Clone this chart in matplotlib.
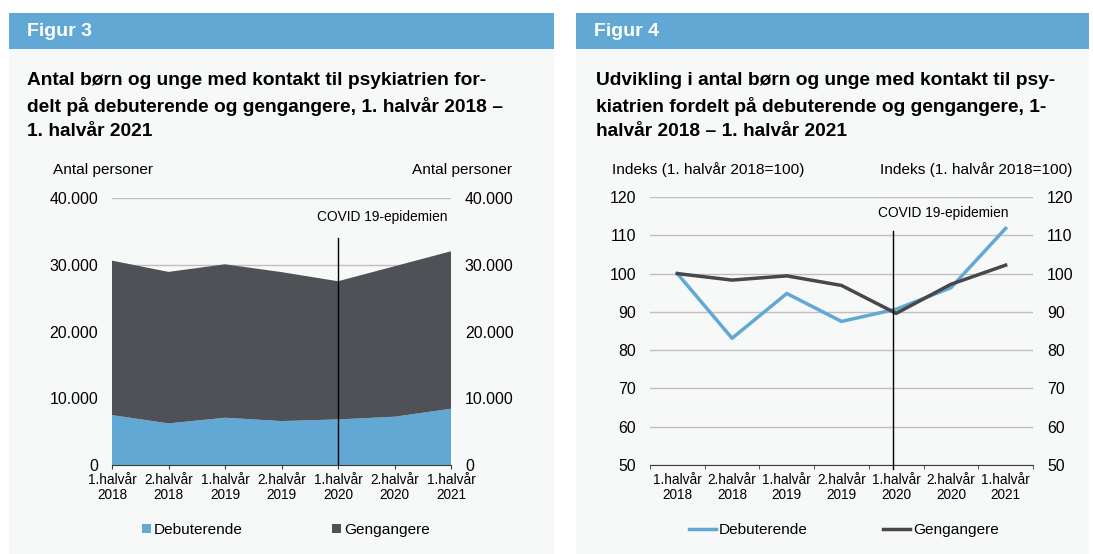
import numpy as np
import matplotlib
matplotlib.use('Agg')
from matplotlib import pyplot as plt
from matplotlib.patches import Rectangle, Patch

plt.rcParams['font.family'] = ['Liberation Sans', 'DejaVu Sans']

# data
periods = ['1.halvår\n2018', '2.halvår\n2018', '1.halvår\n2019', '2.halvår\n2019',
           '1.halvår\n2020', '2.halvår\n2020', '1.halvår\n2021']
debut_count = [7480, 6230, 7080, 6580, 6830, 7230, 8430]
geng_count = [23140, 22700, 22990, 22320, 20700, 22540, 23590]
debut_index = [100, 83.1, 94.8, 87.5, 90.7, 96.3, 111.8]
geng_index = [100, 98.3, 99.4, 96.9, 89.6, 97.2, 102.2]
covid_pos = 4

W, H = 1093, 554
blue = '#62a8d4'
dark = '#505156'
bg = '#f7f8f8'
grid = '#bfbfbf'


def fx(x):
    return x / W


def fy(y):
    return 1 - y / H


def box(x0, y0, x1, y1):
    return [fx(x0), fy(y1), fx(x1) - fx(x0), fy(y0) - fy(y1)]


fig = plt.figure(figsize=(W / 100, H / 100), dpi=100)
fig.patch.set_facecolor('white')

# panels and headers
for x0, x1, name in [(9, 554, 'Figur 3'), (576, 1089, 'Figur 4')]:
    fig.patches.append(Rectangle((fx(x0), 0), fx(x1) - fx(x0), fy(49), transform=fig.transFigure,
                                 facecolor=bg, edgecolor='none', zorder=-2))
    fig.patches.append(Rectangle((fx(x0), fy(49)), fx(x1) - fx(x0), fy(13) - fy(49),
                                 transform=fig.transFigure, facecolor=blue, edgecolor='none', zorder=-2))
    fig.text(fx(x0 + 18), fy(31.5), name, color='white', fontsize=14, fontweight='bold',
             va='center', ha='left')

fig.text(fx(27), fy(72), 'Antal børn og unge med kontakt til psykiatrien for-\n'
         'delt på debuterende og gengangere, 1. halvår 2018 –\n1. halvår 2021',
         fontsize=13.8, fontweight='bold', va='top', ha='left', linespacing=1.52)
fig.text(fx(596), fy(72), 'Udvikling i antal børn og unge med kontakt til psy-\n'
         'kiatrien fordelt på debuterende og gengangere, 1-\nhalvår 2018 – 1. halvår 2021',
         fontsize=13.8, fontweight='bold', va='top', ha='left', linespacing=1.52)

# ---- Figur 3: stacked area ----
ax1 = fig.add_axes(box(112, 198, 451, 465))
ax1.set_facecolor('none')
x = np.arange(len(periods))
ax1.stackplot(x, debut_count, geng_count, colors=[blue, dark], zorder=2)
ax1.set_xlim(0, len(periods) - 1)
ax1.set_ylim(0, 40000)
yt = [0, 10000, 20000, 30000, 40000]
ylab = ['0', '10.000', '20.000', '30.000', '40.000']
ax1.set_yticks(yt, ylab)
ax1.set_xticks(x, periods)
ax1.grid(axis='y', color=grid, linewidth=1, zorder=1)
ax1.set_axisbelow(True)
for s in ['top', 'left', 'right']:
    ax1.spines[s].set_visible(False)
ax1.spines['bottom'].set_color('#3a3a3a')
ax1.spines['bottom'].set_zorder(5)
ax1.tick_params(axis='y', length=0, pad=10, labelsize=11.4, labelright=True)
ax1.tick_params(axis='x', length=3, color='#3a3a3a', pad=2.5, labelsize=9.8)
for t in ax1.get_xticklabels():
    t.set_linespacing(1.1)
ax1.plot([covid_pos, covid_pos], [0, 34000], color='black', linewidth=1, zorder=4)
ax1.text(0.99, (465 - 217) / 267, 'COVID 19-epidemien', transform=ax1.transAxes,
         ha='right', va='center', fontsize=9.9)
fig.text(fx(53), fy(170), 'Antal personer', fontsize=11.1, va='center', ha='left')
fig.text(fx(512), fy(170), 'Antal personer', fontsize=11.1, va='center', ha='right')
ax1.legend(handles=[Patch(facecolor=blue, label='Debuterende'),
                    Patch(facecolor=dark, label='Gengangere')],
           loc='center', bbox_to_anchor=(fx(286), fy(530)), bbox_transform=fig.transFigure,
           ncol=2, frameon=False, fontsize=11.1, handlelength=0.55, handleheight=0.55,
           handletextpad=0.2, columnspacing=5.8)

# ---- Figur 4: index lines ----
ax2 = fig.add_axes(box(650, 197, 1033, 465))
ax2.set_facecolor('none')
ax2.plot(x, debut_index, color=blue, linewidth=2.5, zorder=3, label='Debuterende')
ax2.plot(x, geng_index, color='#47474c', linewidth=2.5, zorder=3, label='Gengangere')
ax2.set_xlim(-0.5, len(periods) - 0.5)
ax2.set_ylim(50, 120)
ax2.set_yticks(np.arange(50, 121, 10))
ax2.set_xticks(x, periods)
ax2.set_xticks(np.arange(-0.5, len(periods), 1), minor=True)
ax2.grid(axis='y', color=grid, linewidth=1, zorder=1)
for s in ['top', 'left', 'right']:
    ax2.spines[s].set_visible(False)
ax2.spines['bottom'].set_color('#3a3a3a')
ax2.tick_params(axis='y', length=0, pad=10, labelsize=11.4, labelright=True)
ax2.tick_params(axis='x', which='major', length=0, pad=6, labelsize=9.8)
ax2.tick_params(axis='x', which='minor', length=3, color='#3a3a3a')
for t in ax2.get_xticklabels():
    t.set_linespacing(1.1)
ax2.plot([covid_pos - 0.05, covid_pos - 0.05], [49, 111], color='black', linewidth=1,
         zorder=4, clip_on=False)
ax2.text(0.935, (465 - 213) / 268, 'COVID 19-epidemien', transform=ax2.transAxes,
         ha='right', va='center', fontsize=9.9)
fig.text(fx(612), fy(170), 'Indeks (1. halvår 2018=100)', fontsize=11.1, va='center', ha='left')
fig.text(fx(1072), fy(170), 'Indeks (1. halvår 2018=100)', fontsize=11.1, va='center', ha='right')
ax2.legend(loc='center', bbox_to_anchor=(fx(844), fy(530)), bbox_transform=fig.transFigure,
           ncol=2, frameon=False, fontsize=11.1, handlelength=1.75,
           handletextpad=0.2, columnspacing=4.9)

fig.savefig('out.png', dpi=100)
